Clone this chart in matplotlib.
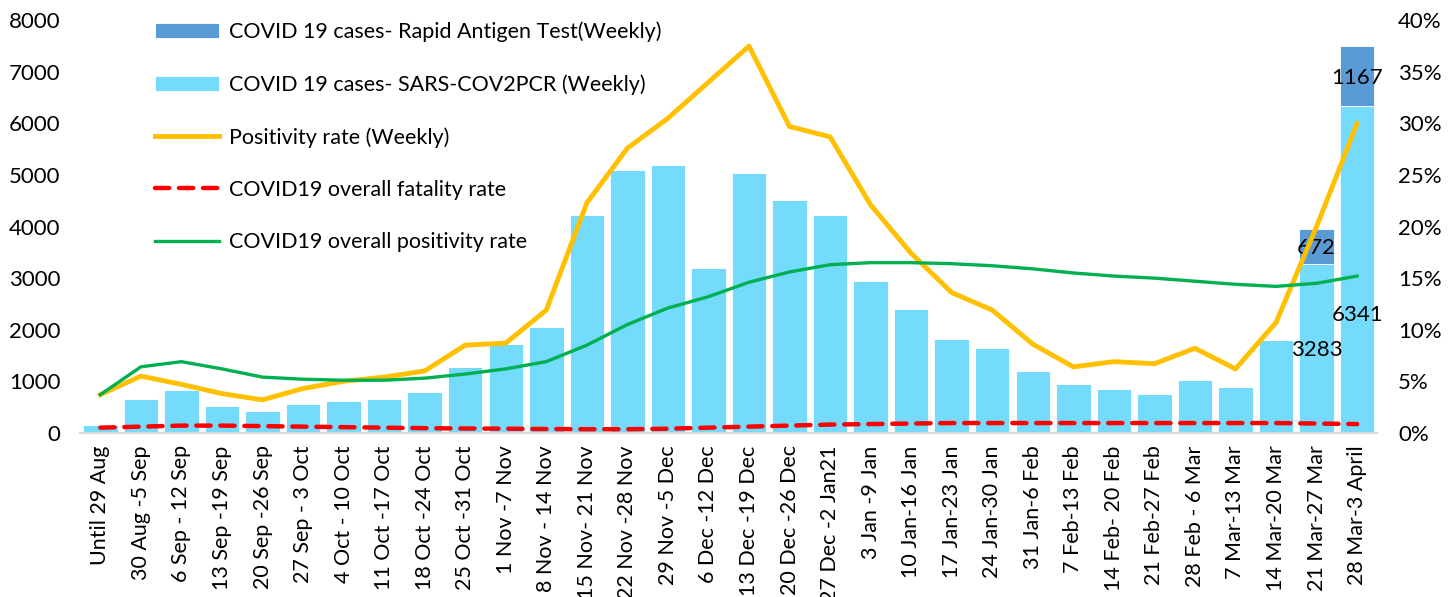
import numpy as np
import matplotlib
matplotlib.use('Agg')
import matplotlib.pyplot as plt
from matplotlib.ticker import PercentFormatter

plt.rcParams['font.family'] = ['Lato', 'DejaVu Sans']

weeks = ['Until 29 Aug', '30 Aug -5 Sep', '6 Sep - 12 Sep', '13 Sep -19 Sep',
         '20 Sep -26 Sep', '27 Sep - 3 Oct', '4 Oct - 10 Oct', '11 Oct -17 Oct',
         '18 Oct -24 Oct', '25 Oct -31 Oct', '1 Nov -7 Nov', '8 Nov - 14 Nov',
         '15 Nov- 21 Nov', '22 Nov -28 Nov', '29 Nov -5 Dec', '6 Dec -12 Dec',
         '13 Dec -19 Dec', '20 Dec -26 Dec', '27 Dec -2 Jan21', '3 Jan -9 Jan',
         '10 Jan-16 Jan', '17 Jan-23 Jan', '24 Jan-30 Jan', '31 Jan-6 Feb',
         '7 Feb-13 Feb', '14 Feb- 20 Feb', '21 Feb-27 Feb', '28 Feb - 6 Mar',
         '7 Mar-13 Mar', '14 Mar-20 Mar', '21 Mar-27 Mar', '28 Mar-3 April']

pcr_cases = [150, 650, 830, 520, 420, 550, 620, 650, 800, 1270, 1720, 2050,
             4220, 5100, 5200, 3200, 5040, 4520, 4220, 2950, 2400, 1820, 1650,
             1200, 950, 850, 760, 1030, 890, 1800, 3283, 6341]
rat_cases = [0] * 30 + [672, 1167]

positivity_weekly = [3.7, 5.5, 4.7, 3.8, 3.2, 4.3, 5.0, 5.4, 6.0, 8.5, 8.7, 11.9,
                     22.3, 27.6, 30.5, 34.0, 37.5, 29.7, 28.7, 22.1, 17.4, 13.6,
                     11.9, 8.6, 6.4, 6.9, 6.7, 8.2, 6.2, 10.7, 20.0, 30.0]
fatality_overall = [0.5, 0.6, 0.7, 0.7, 0.65, 0.6, 0.55, 0.5, 0.45, 0.42, 0.4,
                    0.37, 0.35, 0.35, 0.4, 0.5, 0.6, 0.7, 0.8, 0.85, 0.9, 0.95,
                    0.95, 0.95, 0.95, 0.95, 0.95, 0.95, 0.95, 0.95, 0.9, 0.85]
positivity_overall = [3.7, 6.4, 6.9, 6.2, 5.4, 5.2, 5.1, 5.1, 5.3, 5.7, 6.2, 6.9,
                      8.5, 10.5, 12.1, 13.2, 14.6, 15.6, 16.3, 16.5, 16.5, 16.4,
                      16.2, 15.9, 15.5, 15.2, 15.0, 14.7, 14.4, 14.2, 14.5, 15.2]

x = np.arange(len(weeks))

fig = plt.figure(figsize=(14.56, 5.97), dpi=100)
ax = fig.add_axes([0.055, 0.275, 0.891, 0.691])

b_pcr = ax.bar(x, pcr_cases, width=0.85, color='#75DBFD', edgecolor='white',
               linewidth=0.6, label='COVID 19 cases- SARS-COV2PCR (Weekly)', zorder=2)
b_rat = ax.bar(x, rat_cases, width=0.85, bottom=pcr_cases, color='#5B9BD5',
               edgecolor='white', linewidth=0.6,
               label='COVID 19 cases- Rapid Antigen Test(Weekly)', zorder=2)

ax.set_xlim(-0.5, len(weeks) - 0.5)
ax.set_ylim(0, 8000)
ax.set_yticks(range(0, 8001, 1000))
ax.set_xticks(x)
ax.set_xticklabels(weeks, rotation=90, fontsize=15.5)
ax.tick_params(axis='y', labelsize=16, length=0, pad=14)
ax.tick_params(axis='x', length=0, pad=9)
for s in ['top', 'right', 'left']:
    ax.spines[s].set_visible(False)
ax.spines['bottom'].set_color('#d9d9d9')
ax.spines['bottom'].set_linewidth(1.5)

ax2 = ax.twinx()
ax2.set_ylim(0, 40)
ax2.set_yticks(range(0, 41, 5))
ax2.yaxis.set_major_formatter(PercentFormatter(decimals=0))
ax2.tick_params(axis='y', labelsize=16, length=0, pad=15)
for s in ax2.spines.values():
    s.set_visible(False)

l_pos, = ax2.plot(x, positivity_weekly, color='#FFC000', linewidth=3.5,
                  label='Positivity rate (Weekly)', solid_joinstyle='round')
l_fat, = ax2.plot(x, fatality_overall, color='#FF0000', linewidth=3.2,
                  linestyle=(0, (3.2, 2.2)), dash_capstyle='round',
                  label='COVID19 overall fatality rate')
l_all, = ax2.plot(x, positivity_overall, color='#00B050', linewidth=2.4,
                  label='COVID19 overall positivity rate')

# data labels on the last two weeks
ax.text(x[31], pcr_cases[31] + rat_cases[31] - 630, str(rat_cases[31]),
        ha='center', va='center', fontsize=16)
ax.text(x[30], pcr_cases[30] + rat_cases[30] - 370, str(rat_cases[30]),
        ha='center', va='center', fontsize=16)
ax.text(x[30], pcr_cases[30] - 1670, str(pcr_cases[30]),
        ha='center', va='center', fontsize=16)
ax.text(x[31], pcr_cases[31] - 4050, str(pcr_cases[31]),
        ha='center', va='center', fontsize=16)

handles = [b_rat, b_pcr, l_pos, l_fat, l_all]
fig.legend(handles, [h.get_label() for h in handles],
           loc='upper left', bbox_to_anchor=(0.093, 0.997), frameon=False,
           fontsize=15.5, labelspacing=1.5, handlelength=3.0, handletextpad=0.47)

fig.savefig('out.png', dpi=100)
